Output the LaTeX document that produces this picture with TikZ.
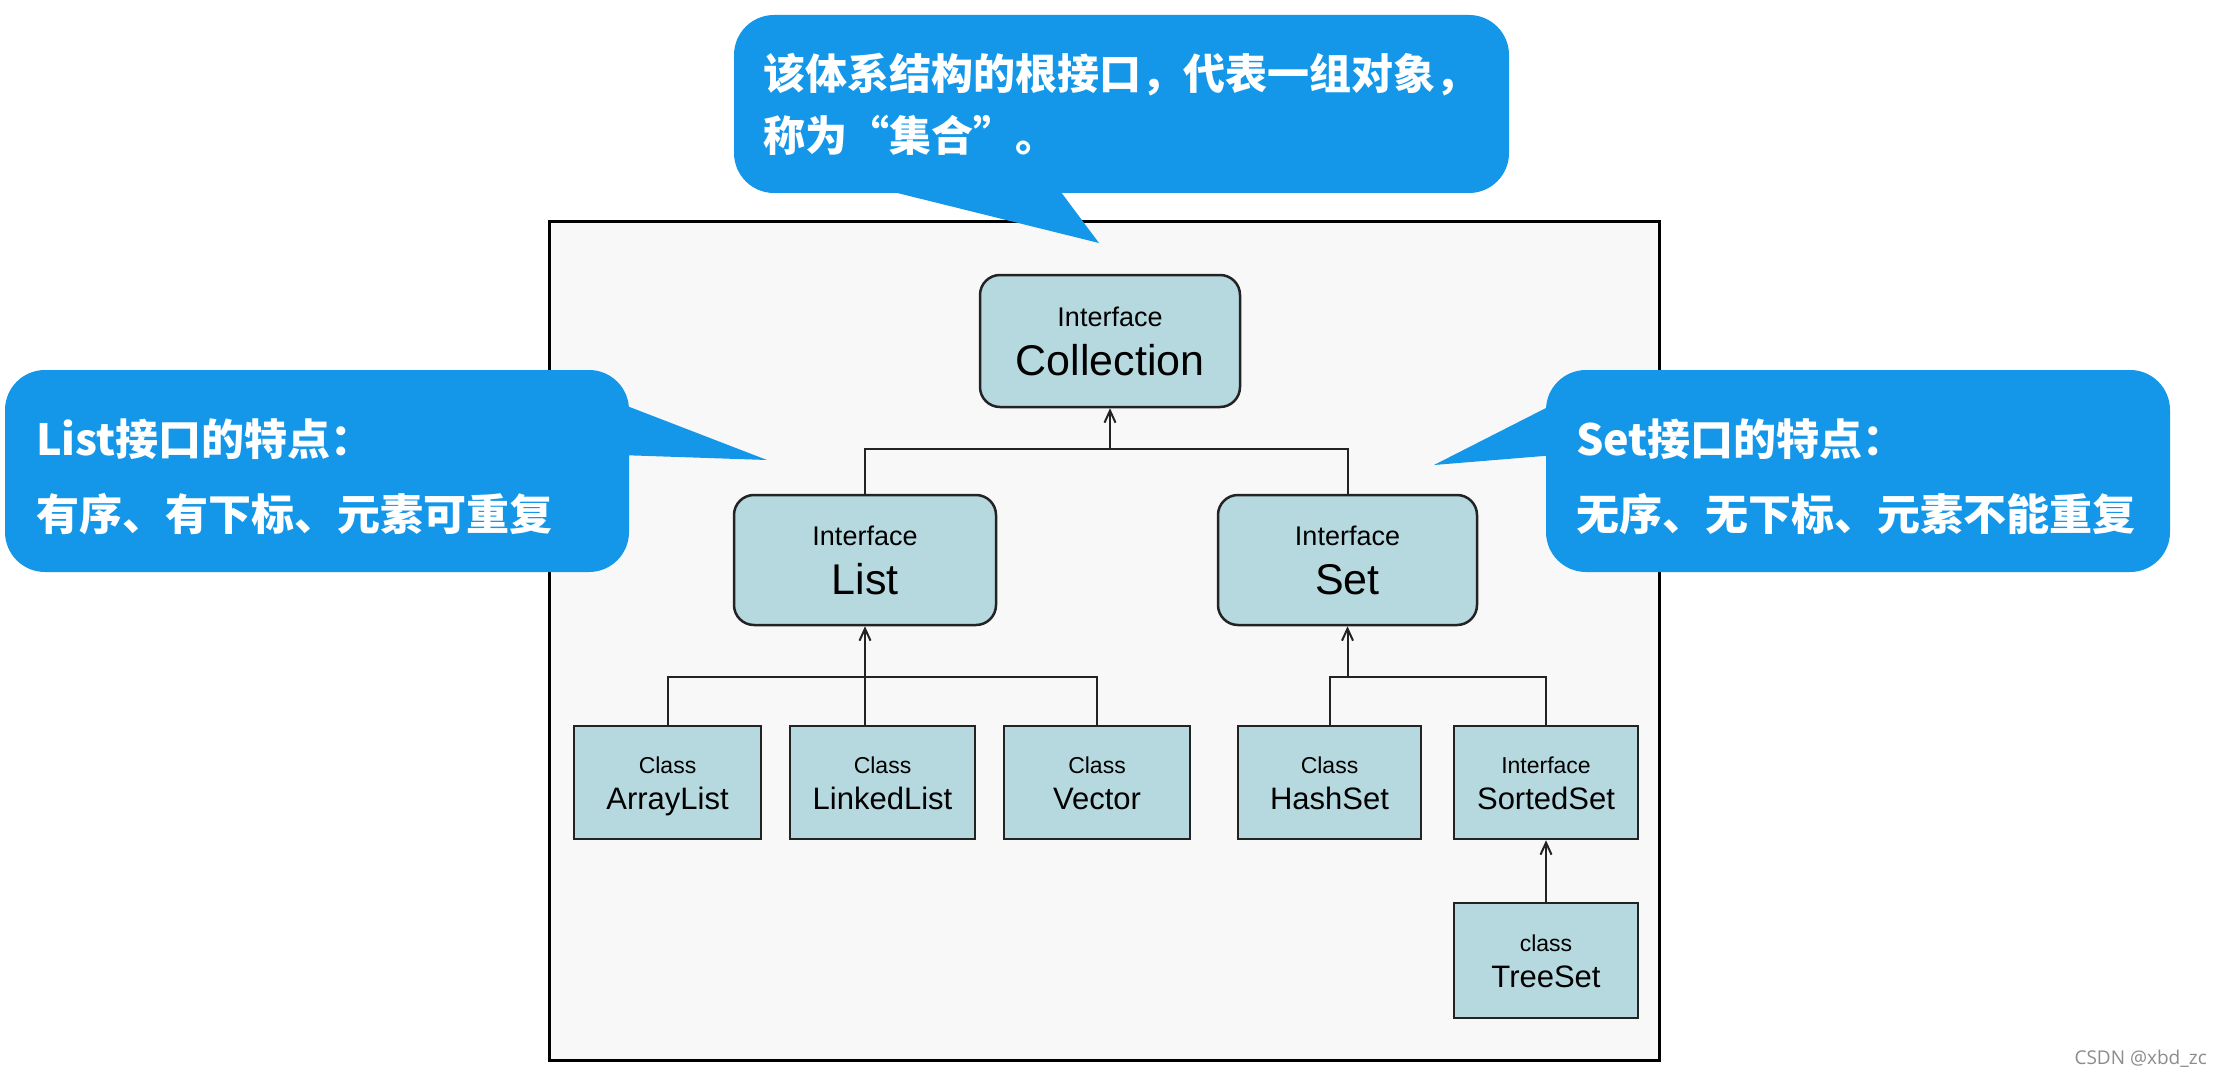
\documentclass[tikz,border=0pt]{standalone}
\usepackage{fontspec}
\setmainfont{Liberation Sans}
\newfontfamily\cjk{Noto Sans CJK SC}
\newfontfamily\wmfont{Open Sans}
\usetikzlibrary{arrows.meta,calc}
\definecolor{callblue}{RGB}{20,151,233}
\definecolor{boxfill}{RGB}{182,217,223}
\definecolor{framebg}{RGB}{248,248,248}
\definecolor{edgecol}{RGB}{35,35,35}
\definecolor{wmcol}{RGB}{140,140,140}
\newcommand\bigtxt[2]{{\fontsize{27}{49}\selectfont #1}\\#2}
\newcommand\smalltxt[2]{{\fontsize{23}{36}\selectfont\rule{0pt}{23.5pt}#1}\\#2\vphantom{y}}
\tikzset{
  callout/.style={fill=callblue, rounded corners=40pt, inner ysep=0pt, text=white, align=left},
  toptext/.style={font=\cjk\bfseries\fontsize{42}{62}\selectfont},
  sidetext/.style={font=\cjk\bfseries\fontsize{43}{75}\selectfont},
  tailpart/.style={fill=callblue},
  iface/.style={draw=edgecol, line width=2.5pt, fill=boxfill, rounded corners=20pt, inner sep=0pt, align=center, font=\fontsize{43}{49}\selectfont},
  cls/.style={draw=edgecol, line width=2.5pt, fill=boxfill, inner sep=0pt, align=center, font=\fontsize{31}{36}\selectfont},
  link/.style={draw=edgecol, line width=2pt},
  arr/.style={link, -{Straight Barb[length=12pt,width=11pt,line width=2pt]}},
}
\begin{document}
\begin{tikzpicture}[x=1pt,y=-1pt]
\useasboundingbox (0,0) rectangle (2222,1078);
\fill[white] (0,0) rectangle (2222,1078);
% frame
\draw[line width=3pt, draw=black, fill=framebg] (549,222) rectangle (1659,1060);

% hierarchy nodes
\node[iface, minimum width=260, minimum height=132] (coll) at (1110,341) {\bigtxt{Interface}{Collection}};
\node[iface, minimum width=262, minimum height=130] (list) at (865,560) {\bigtxt{Interface}{List}};
\node[iface, minimum width=259, minimum height=130] (set) at (1347.5,560) {\bigtxt{Interface}{Set}};

\node[cls, minimum width=187, minimum height=113] (arraylist) at (667.5,782.5) {\smalltxt{Class}{ArrayList}};
\node[cls, minimum width=185, minimum height=113] (linkedlist) at (882.5,782.5) {\smalltxt{Class}{LinkedList}};
\node[cls, minimum width=186, minimum height=113] (vector) at (1097,782.5) {\smalltxt{Class}{Vector}};
\node[cls, minimum width=183, minimum height=113] (hashset) at (1329.5,782.5) {\smalltxt{Class}{HashSet}};
\node[cls, minimum width=184, minimum height=113] (sortedset) at (1546,782.5) {\smalltxt{Interface}{SortedSet}};
\node[cls, minimum width=184, minimum height=115] (treeset) at (1546,960.5) {\smalltxt{class}{TreeSet}};

% connectors
\coordinate (j1) at (1110,449);
\coordinate (j2) at (865,677);
\coordinate (j3) at (1347.5,677);
\draw[link] (list.north) |- (j1) -| (set.north);
\draw[arr] (j1) -- (coll.south);
\draw[link] (arraylist.north) |- (vector.north |- j2) -- (vector.north);
\draw[arr] (linkedlist.north -| j2) -- (list.south);
\draw[link] (hashset.north) |- (sortedset.north |- j3) -- (sortedset.north);
\draw[arr] (j3) -- (set.south);
\draw[arr] (treeset.north) -- (sortedset.south);

% callouts
\node[callout, toptext, minimum width=775, minimum height=178, text width=717, inner xsep=29pt] (topc) at (1121.5,104)
  {该体系结构的根接口，代表一组对象，\\称为“集合”。};
\coordinate (ttip) at (1099,243);
\fill[tailpart] ([xshift=132pt,yshift=8pt]topc.south west) -- (ttip) -- ([xshift=322pt,yshift=8pt]topc.south west) -- cycle;

\node[callout, sidetext, minimum width=624, minimum height=202, text width=562, inner xsep=31pt] (leftc) at (317,471)
  {\rule{0pt}{48pt}List接口的特点：\\有序、有下标、元素可重复};
\coordinate (ltip) at (767,460);
\fill[tailpart] ([xshift=-10pt,yshift=68pt]leftc.east) -- (ltip) -- ([xshift=-10pt,yshift=16pt]leftc.east) -- cycle;

\node[callout, sidetext, minimum width=624, minimum height=202, text width=564, inner xsep=30pt] (rightc) at (1858,471)
  {\rule{0pt}{48pt}Set接口的特点：\\无序、无下标、元素不能重复};
\coordinate (rtip) at (1434,465);
\fill[tailpart] ([xshift=10pt,yshift=68pt]rightc.west) -- (rtip) -- ([xshift=10pt,yshift=16pt]rightc.west) -- cycle;

% watermark
\node[anchor=east, text=wmcol, font=\wmfont\fontsize{19}{19}\selectfont, inner sep=0pt] (wmk) at (2207,1059) {CSDN @xbd\_zc};
\end{tikzpicture}
\end{document}
